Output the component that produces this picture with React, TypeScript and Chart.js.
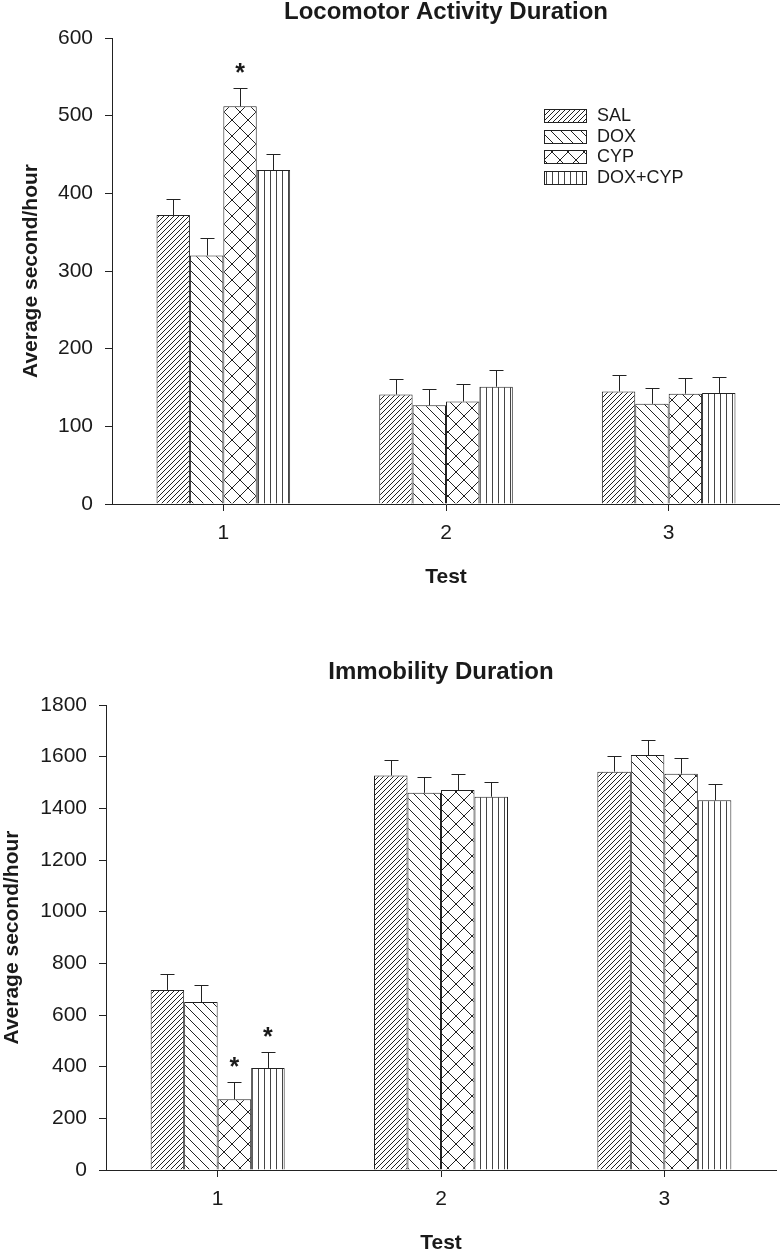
import React, { useEffect, useRef } from 'react';
import { Chart, registerables } from 'chart.js';

Chart.register(...registerables);

// ---------- data ----------
const categories = ['1', '2', '3'];
const seriesNames = ['SAL', 'DOX', 'CYP', 'DOX+CYP'];
const yTickValuesTop = [0, 100, 200, 300, 400, 500, 600];
const yTickValuesBottom = [0, 200, 400, 600, 800, 1000, 1200, 1400, 1600, 1800];

// Locomotor Activity Duration (means)
const locoSAL = [372, 141, 145];
const locoDOX = [320, 127, 129];
const locoCYP = [512, 132, 142];
const locoDOXCYP = [430, 151, 143];
// Locomotor SEM (upper error)
const locoErrSAL = [21, 20, 21];
const locoErrDOX = [22, 21, 21];
const locoErrCYP = [23, 22, 20];
const locoErrDOXCYP = [21, 21, 20];
// Locomotor significance markers
const locoSigSAL = [false, false, false];
const locoSigDOX = [false, false, false];
const locoSigCYP = [true, false, false];
const locoSigDOXCYP = [false, false, false];

// Immobility Duration (means)
const immoSAL = [697, 1527, 1542];
const immoDOX = [650, 1460, 1606];
const immoCYP = [274, 1471, 1534];
const immoDOXCYP = [395, 1445, 1431];
// Immobility SEM (upper error)
const immoErrSAL = [62, 61, 62];
const immoErrDOX = [66, 61, 60];
const immoErrCYP = [65, 62, 60];
const immoErrDOXCYP = [61, 58, 62];
// Immobility significance markers
const immoSigSAL = [false, false, false];
const immoSigDOX = [false, false, false];
const immoSigCYP = [true, false, false];
const immoSigDOXCYP = [true, false, false];

// ---------- styling ----------
const FONT = '"Liberation Sans", Arial, Helvetica, sans-serif';
const INK = '#1a1a1a';
const LINE = '#222222';

function makePattern(kind: string): CanvasPattern {
  const c = document.createElement('canvas');
  let p = 5;
  if (kind === 'back') p = 10;
  if (kind === 'cross') p = 16;
  if (kind === 'vert') p = 6;
  c.width = p;
  c.height = p;
  const ctx = c.getContext('2d') as CanvasRenderingContext2D;
  ctx.fillStyle = '#ffffff';
  ctx.fillRect(0, 0, p, p);
  ctx.strokeStyle = LINE;
  ctx.lineWidth = 1;
  ctx.beginPath();
  if (kind === 'fwd' || kind === 'cross') {
    for (let k = -1; k <= 1; k++) {
      ctx.moveTo(k * p, p);
      ctx.lineTo(k * p + p, 0);
    }
  }
  if (kind === 'back' || kind === 'cross') {
    for (let k = -1; k <= 1; k++) {
      ctx.moveTo(k * p, 0);
      ctx.lineTo(k * p + p, p);
    }
  }
  ctx.stroke();
  if (kind === 'vert') {
    ctx.fillStyle = '#444444';
    ctx.fillRect(0, 0, 1, p);
  }
  return ctx.createPattern(c, 'repeat') as CanvasPattern;
}

interface PanelCfg {
  title: string;
  series: number[][];
  errors: number[][];
  sig: boolean[][];
  max: number;
  ticks: number[];
  yWidth: number;
  padRight: number;
  titleTop: number;
  titleBottom: number;
  xHeight: number;
  xTitleBottom: number;
  yTitleTop: number;
  legend: boolean;
}

function buildChart(canvas: HTMLCanvasElement, cfg: PanelCfg): Chart {
  const kinds = ['fwd', 'back', 'cross', 'vert'];
  const patterns = kinds.map((k) => makePattern(k));

  const errorPlugin = {
    id: 'errorBarsAndStars',
    afterDatasetsDraw(chart: any) {
      const ctx = chart.ctx as CanvasRenderingContext2D;
      const yScale = chart.scales.y;
      ctx.save();
      ctx.strokeStyle = LINE;
      ctx.lineWidth = 1;
      cfg.series.forEach((vals, di) => {
        const meta = chart.getDatasetMeta(di);
        meta.data.forEach((bar: any, j: number) => {
          const x = Math.round(bar.x) + 0.5;
          const yTop = yScale.getPixelForValue(vals[j]);
          const yErr = Math.round(yScale.getPixelForValue(vals[j] + cfg.errors[di][j])) + 0.5;
          ctx.beginPath();
          ctx.moveTo(x, yTop);
          ctx.lineTo(x, yErr);
          ctx.moveTo(x - 7, yErr);
          ctx.lineTo(x + 7, yErr);
          ctx.stroke();
          if (cfg.sig[di][j]) {
            ctx.fillStyle = INK;
            ctx.font = `bold 25px ${FONT}`;
            ctx.textAlign = 'center';
            ctx.textBaseline = 'alphabetic';
            ctx.fillText('*', bar.x, yErr - 22 + 0.58 * 25);
          }
        });
      });
      ctx.restore();
    },
  };

  const legendPlugin = {
    id: 'patternLegend',
    afterDraw(chart: any) {
      if (!cfg.legend) return;
      const ctx = chart.ctx as CanvasRenderingContext2D;
      ctx.save();
      const boxX = 544;
      const boxW = 42;
      const boxH = 13;
      const rows = [115, 136, 156, 177];
      seriesNames.forEach((name, i) => {
        const cy = rows[i];
        const top = Math.round(cy - boxH / 2);
        ctx.fillStyle = patterns[i];
        ctx.fillRect(boxX, top, boxW, boxH);
        ctx.strokeStyle = LINE;
        ctx.lineWidth = 1;
        ctx.strokeRect(boxX + 0.5, top + 0.5, boxW, boxH);
        ctx.fillStyle = INK;
        ctx.font = `18px ${FONT}`;
        ctx.textAlign = 'left';
        ctx.textBaseline = 'middle';
        ctx.fillText(name, 597, cy + 1);
      });
      ctx.restore();
    },
  };

  return new Chart(canvas, {
    type: 'bar',
    data: {
      labels: categories,
      datasets: seriesNames.map((name, i) => ({
        label: name,
        data: cfg.series[i],
        backgroundColor: patterns[i],
        borderColor: LINE,
        borderWidth: 1,
        categoryPercentage: 0.6,
        barPercentage: 1.0,
      })),
    },
    options: {
      responsive: false,
      animation: false,
      events: [],
      layout: { padding: { left: 0, right: cfg.padRight, top: 0, bottom: 0 } },
      plugins: {
        legend: { display: false },
        tooltip: { enabled: false },
        title: {
          display: true,
          fullSize: false,
          text: cfg.title,
          color: INK,
          font: { family: FONT, size: 24, weight: 'bold', lineHeight: 1 },
          padding: { top: cfg.titleTop, bottom: cfg.titleBottom },
        },
      },
      scales: {
        x: {
          type: 'category',
          offset: true,
          grid: { drawOnChartArea: false, offset: false, tickLength: 7, color: LINE, lineWidth: 1 },
          border: { display: true, color: LINE, width: 1 },
          ticks: { color: INK, font: { family: FONT, size: 21 }, padding: 10 },
          title: {
            display: true,
            text: 'Test',
            color: INK,
            font: { family: FONT, size: 21, weight: 'bold', lineHeight: 0.76 },
            padding: { top: 0, bottom: cfg.xTitleBottom },
          },
          afterFit: (s: any) => {
            s.height = cfg.xHeight;
          },
        },
        y: {
          type: 'linear',
          min: 0,
          max: cfg.max,
          afterBuildTicks: (s: any) => {
            s.ticks = cfg.ticks.map((v) => ({ value: v }));
          },
          grid: { drawOnChartArea: false, tickLength: 7, color: LINE, lineWidth: 1 },
          border: { display: true, color: LINE, width: 1 },
          ticks: {
            color: INK,
            font: { family: FONT, size: 21 },
            padding: 12,
            callback: (v: any) => String(v),
          },
          title: {
            display: true,
            text: 'Average second/hour',
            color: INK,
            font: { family: FONT, size: 21, weight: 'bold', lineHeight: 1 },
            padding: { top: cfg.yTitleTop, bottom: 0 },
          },
          afterFit: (s: any) => {
            s.width = cfg.yWidth;
          },
        },
      },
    } as any,
    plugins: [errorPlugin, legendPlugin],
  });
}

export default function App() {
  const topRef = useRef<HTMLCanvasElement | null>(null);
  const bottomRef = useRef<HTMLCanvasElement | null>(null);

  useEffect(() => {
    const charts: Chart[] = [];
    if (topRef.current) {
      charts.push(
        buildChart(topRef.current, {
          title: 'Locomotor Activity Duration',
          series: [locoSAL, locoDOX, locoCYP, locoDOXCYP],
          errors: [locoErrSAL, locoErrDOX, locoErrCYP, locoErrDOXCYP],
          sig: [locoSigSAL, locoSigDOX, locoSigCYP, locoSigDOXCYP],
          max: 600,
          ticks: yTickValuesTop,
          yWidth: 112,
          padRight: 0,
          titleTop: 0,
          titleBottom: 14,
          xHeight: 116,
          xTitleBottom: 35,
          yTitleTop: 20.5,
          legend: true,
        })
      );
    }
    if (bottomRef.current) {
      charts.push(
        buildChart(bottomRef.current, {
          title: 'Immobility Duration',
          series: [immoSAL, immoDOX, immoCYP, immoDOXCYP],
          errors: [immoErrSAL, immoErrDOX, immoErrCYP, immoErrDOXCYP],
          sig: [immoSigSAL, immoSigDOX, immoSigCYP, immoSigDOXCYP],
          max: 1800,
          ticks: yTickValuesBottom,
          yWidth: 106,
          padRight: 4,
          titleTop: 20,
          titleBottom: 21,
          xHeight: 81,
          xTitleBottom: 0,
          yTitleTop: 1.5,
          legend: false,
        })
      );
    }
    return () => {
      charts.forEach((c) => c.destroy());
    };
  }, []);

  return (
    <div style={{ position: 'absolute', left: 0, top: 0, width: 780, height: 1251, background: '#fff', overflow: 'hidden' }}>
      <canvas
        ref={topRef}
        width={780}
        height={620}
        style={{ position: 'absolute', left: 0, top: 0, width: 780, height: 620 }}
      />
      <canvas
        ref={bottomRef}
        width={780}
        height={611}
        style={{ position: 'absolute', left: 0, top: 640, width: 780, height: 611 }}
      />
    </div>
  );
}
